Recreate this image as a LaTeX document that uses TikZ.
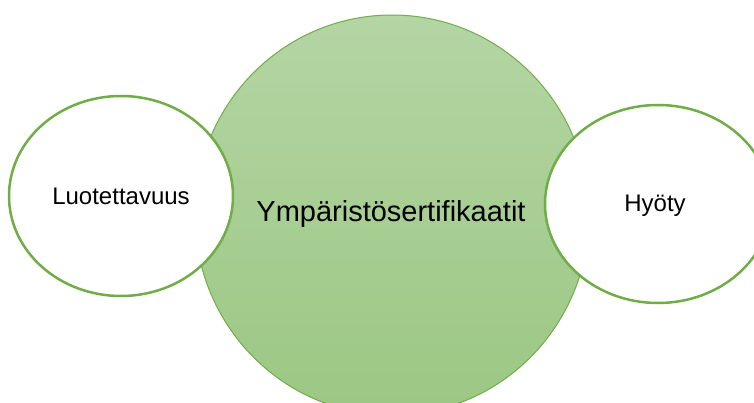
\documentclass[tikz,border=0pt]{standalone}
\usepackage{fontspec}
\setmainfont{Liberation Sans}
\usetikzlibrary{shapes.geometric}
\definecolor{ogreen}{HTML}{70AD47}
\definecolor{gtop}{HTML}{B4D5A4}
\definecolor{gbot}{HTML}{9CC783}
\begin{document}
\begin{tikzpicture}[x=1pt,y=-1pt,
  bigell/.style={ellipse, draw=ogreen, line width=1pt, top color=gtop, bottom color=gbot, minimum width=394pt, minimum height=400pt, inner sep=0pt},
  smallell/.style={ellipse, draw=ogreen, line width=2.5pt, fill=white, inner sep=0pt},
  lbl/.style={anchor=base, text=black, inner sep=0pt}]
\useasboundingbox (0,0) rectangle (754,403);
\node[bigell] (cert) at (392,215) {};
\node[smallell, minimum width=224pt, minimum height=200pt] (luot) at (121,196) {};
\node[smallell, minimum width=226pt, minimum height=198pt] (hyoty) at (658,204) {};
\node[lbl, font=\fontsize{24}{28}\selectfont] (t1) at (121,205) {Luotettavuus};
\node[lbl, font=\fontsize{29}{34}\selectfont] (t2) at (391,222) {Ympäristösertifikaatit};
\node[lbl, font=\fontsize{24}{28}\selectfont] (t3) at (655,212) {Hyöty};
\end{tikzpicture}
\end{document}
